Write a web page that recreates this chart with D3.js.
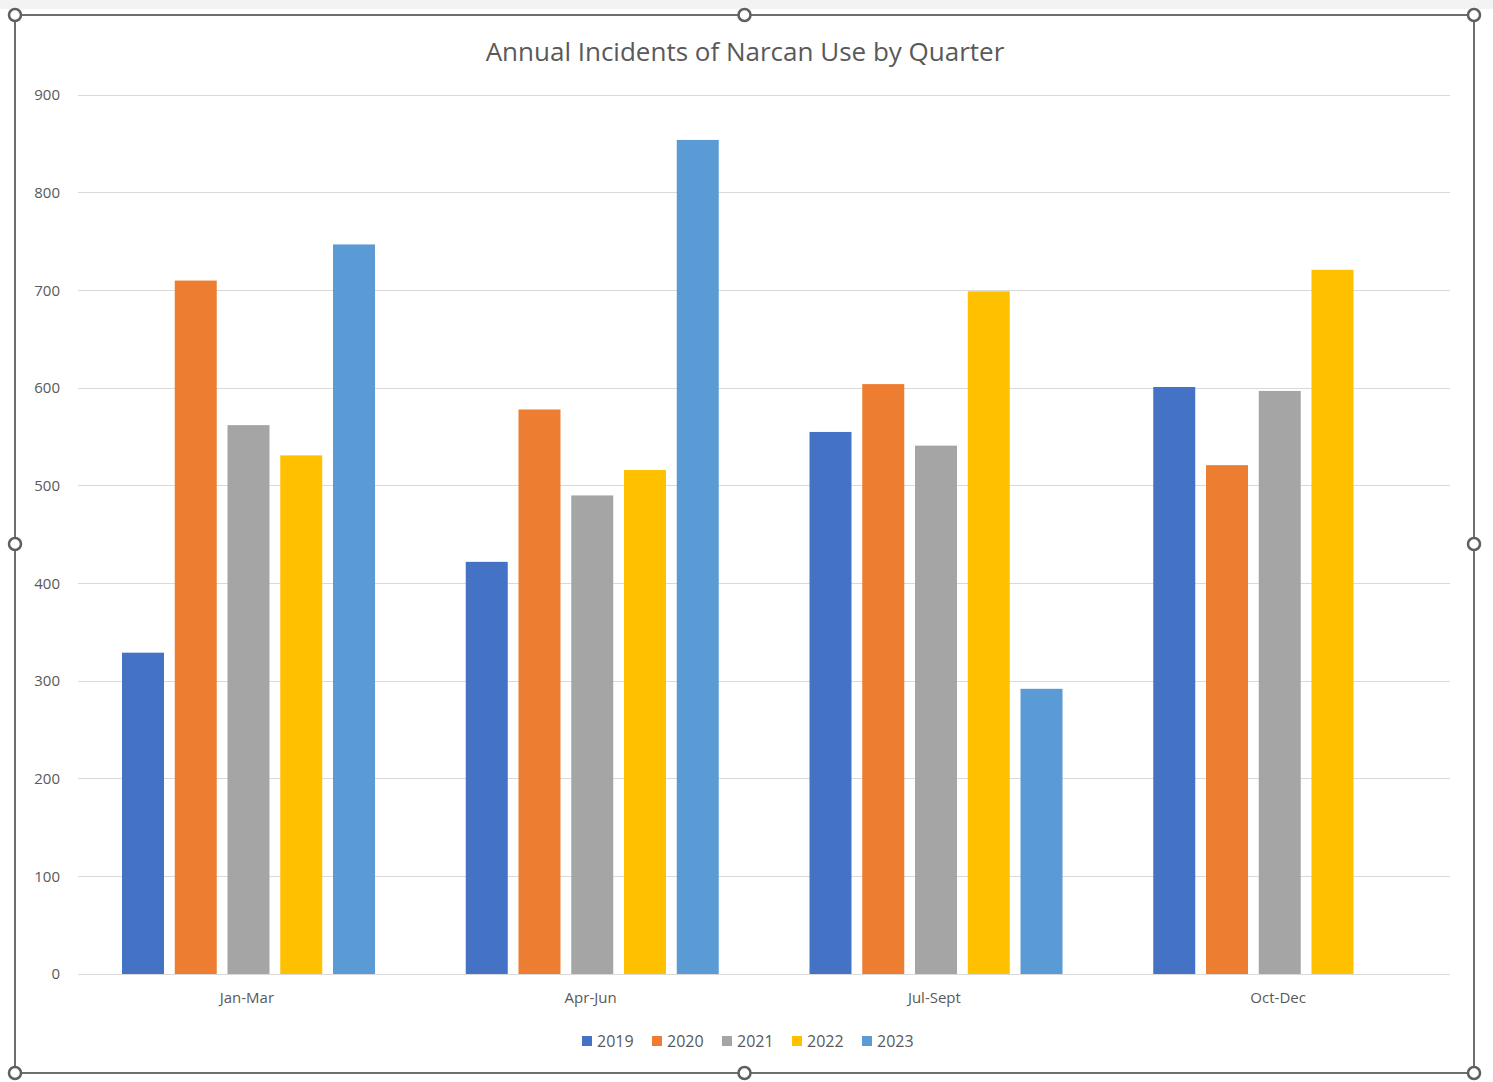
<!DOCTYPE html>
<html><head><meta charset="utf-8">
<script src="https://cdn.jsdelivr.net/npm/d3@7"></script>
<style>
html,body{margin:0;padding:0;background:#fff;}
svg{display:block;font-family:"Open Sans","Noto Sans",sans-serif;}
</style></head>
<body><svg id="c" width="1493" height="1082"></svg>
<script>
const categories = ["Jan-Mar","Apr-Jun","Jul-Sept","Oct-Dec"];
const years = ["2019","2020","2021","2022","2023"];
const v2019 = [329, 422, 555, 601];
const v2020 = [710, 578, 604, 521];
const v2021 = [562, 490, 541, 597];
const v2022 = [531, 516, 699, 721];
const v2023 = [747, 854, 292, null];
const yTicks = [0,100,200,300,400,500,600,700,800,900];
const colors = ["#4472C4","#ED7D31","#A5A5A5","#FFC000","#5B9BD5"];
const series = [v2019, v2020, v2021, v2022, v2023];
const FONT = '"Open Sans","Noto Sans",sans-serif';

const svg = d3.select("#c");
svg.append("rect").attr("x",0).attr("y",0).attr("width",1493).attr("height",9).attr("fill","#f3f3f3");

const x0 = d3.scaleBand().domain(categories).range([78,1453]).padding(0);
const x1 = d3.scaleBand().domain(years).range([44,297]).paddingInner(0.204).paddingOuter(0);
const y = d3.scaleLinear().domain([0,900]).range([974,95]);

svg.append("g").selectAll("line").data(yTicks).join("line")
  .attr("x1",78).attr("x2",1450).attr("y1",d=>y(d)).attr("y2",d=>y(d))
  .attr("stroke","#d9d9d9").attr("stroke-width",1).attr("shape-rendering","crispEdges");

const yAxis = d3.axisLeft(y).tickValues(yTicks).tickSize(0).tickPadding(0);
const ya = svg.append("g").attr("transform","translate(60,0)").call(yAxis)
  .attr("font-family",FONT);
ya.select(".domain").remove();
ya.selectAll("text").attr("fill","#595959").attr("font-size","15px");

const g = svg.append("g");
categories.forEach((c,i)=>{
  years.forEach((yr,j)=>{
    const v = series[j][i];
    if (v==null) return;
    g.append("rect")
      .attr("x", x0(c)+x1(yr)).attr("width", x1.bandwidth())
      .attr("y", y(v)).attr("height", y(0)-y(v))
      .attr("fill", colors[j]);
  });
});

const xAxis = d3.axisBottom(x0).tickSize(0).tickPadding(0);
const xa = svg.append("g").attr("transform","translate(-3,992)").call(xAxis)
  .attr("font-family",FONT);
xa.select(".domain").remove();
xa.selectAll("text").attr("fill","#595959").attr("font-size","15px").attr("dy","0.71em");
svg.append("line").attr("x1",78).attr("x2",1450).attr("y1",y(0)).attr("y2",y(0))
  .attr("stroke","#d9d9d9").attr("shape-rendering","crispEdges");

svg.append("text").attr("x",745).attr("y",61).attr("text-anchor","middle")
  .attr("fill","#595959").attr("font-size","26px").text("Annual Incidents of Narcan Use by Quarter");

const legX = [582,652,722,792,862];
const lg = svg.append("g");
years.forEach((yr,j)=>{
  lg.append("rect").attr("x",legX[j]).attr("y",1036).attr("width",10).attr("height",10).attr("fill",colors[j]);
  lg.append("text").attr("x",legX[j]+15).attr("y",1047).attr("fill","#595959").attr("font-size","16px").text(yr);
});

svg.append("rect").attr("x",15).attr("y",15).attr("width",1459).attr("height",1058)
  .attr("fill","none").attr("stroke","#6e6e6e").attr("stroke-width",2);
const hx=[15,744.5,1474], hy=[15,544,1073];
const handles=[];
hx.forEach(a=>hy.forEach(b=>{ if(!(a===744.5&&b===544)) handles.push([a,b]); }));
svg.append("g").selectAll("circle").data(handles).join("circle")
  .attr("cx",d=>d[0]).attr("cy",d=>d[1]).attr("r",6)
  .attr("fill","#fff").attr("stroke","#5f5f5f").attr("stroke-width",2.5);
</script></body></html>
